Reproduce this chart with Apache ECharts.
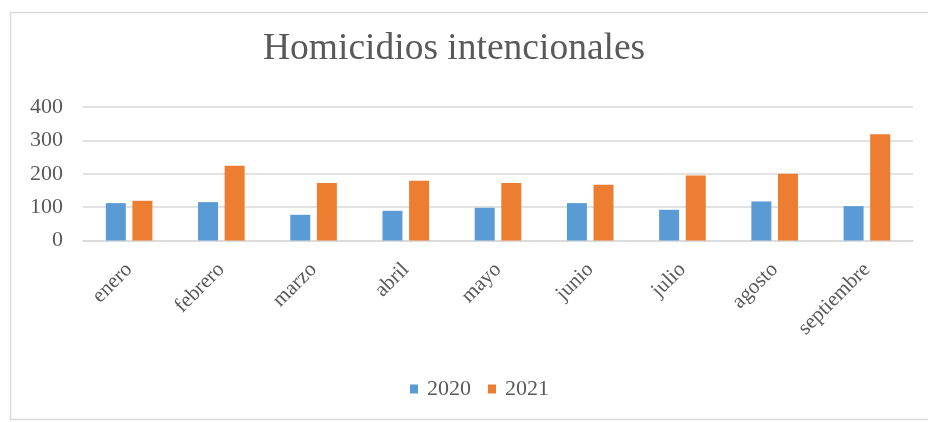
<!DOCTYPE html>
<html>
<head>
<meta charset="utf-8">
<script src="https://cdn.jsdelivr.net/npm/echarts@6/dist/echarts.min.js"></script>
<style>
html,body{margin:0;padding:0;background:#fff;}
#chart{width:928px;height:422px;}
</style>
</head>
<body>
<div id="chart"></div>
<script>
const categories = ['enero','febrero','marzo','abril','mayo','junio','julio','agosto','septiembre'];
const values2020 = [112, 115, 77, 89, 98, 112, 92, 117, 103];
const values2021 = [119, 224, 172, 179, 172, 167, 195, 200, 318];
const yTicks = [0, 100, 200, 300, 400];
const seriesNames = ['2020', '2021'];
const titleText = 'Homicidios intencionales';

const font = 'Liberation Serif';
const chart = echarts.init(document.getElementById('chart'), null, {renderer: 'canvas'});
chart.setOption({
  backgroundColor: '#ffffff',
  animation: false,
  title: {
    text: titleText,
    left: 258,
    top: 25,
    textStyle: {fontFamily: font, fontSize: 37.5, fontWeight: 'normal', color: '#595959'}
  },
  graphic: [{
    type: 'rect',
    shape: {x: 10.5, y: 12.5, width: 940, height: 407},
    style: {fill: 'none', stroke: '#d9d9d9', lineWidth: 1.5}
  }],
  legend: {
    data: seriesNames,
    top: 373,
    left: 405,
    icon: 'rect',
    itemWidth: 8,
    itemHeight: 9,
    itemGap: 17,
    textStyle: {fontFamily: font, fontSize: 22, color: '#595959', padding: [0, 0, 0, 4]}
  },
  grid: {left: 83, right: 15, top: 107, bottom: 181.5, containLabel: false},
  xAxis: {
    type: 'category',
    data: categories,
    axisLine: {lineStyle: {color: '#d9d9d9', width: 1.5}},
    axisTick: {show: false},
    axisLabel: {
      rotate: 45,
      interval: 0,
      margin: 26,
      fontFamily: font,
      fontSize: 21,
      color: '#595959'
    }
  },
  yAxis: {
    type: 'value',
    min: yTicks[0],
    max: yTicks[yTicks.length - 1],
    interval: 100,
    axisLine: {show: false},
    axisTick: {show: false},
    splitLine: {lineStyle: {color: '#d9d9d9', width: 1.5}},
    axisLabel: {
      margin: 20,
      fontFamily: font,
      fontSize: 22,
      color: '#595959',
      formatter: v => String(v)
    }
  },
  series: [
    {name: seriesNames[0], type: 'bar', data: values2020, barWidth: 20, barGap: '33%',
     itemStyle: {color: '#5B9BD5'}},
    {name: seriesNames[1], type: 'bar', data: values2021, barWidth: 20, barGap: '33%',
     itemStyle: {color: '#ED7D31'}}
  ]
});
</script>
</body>
</html>
